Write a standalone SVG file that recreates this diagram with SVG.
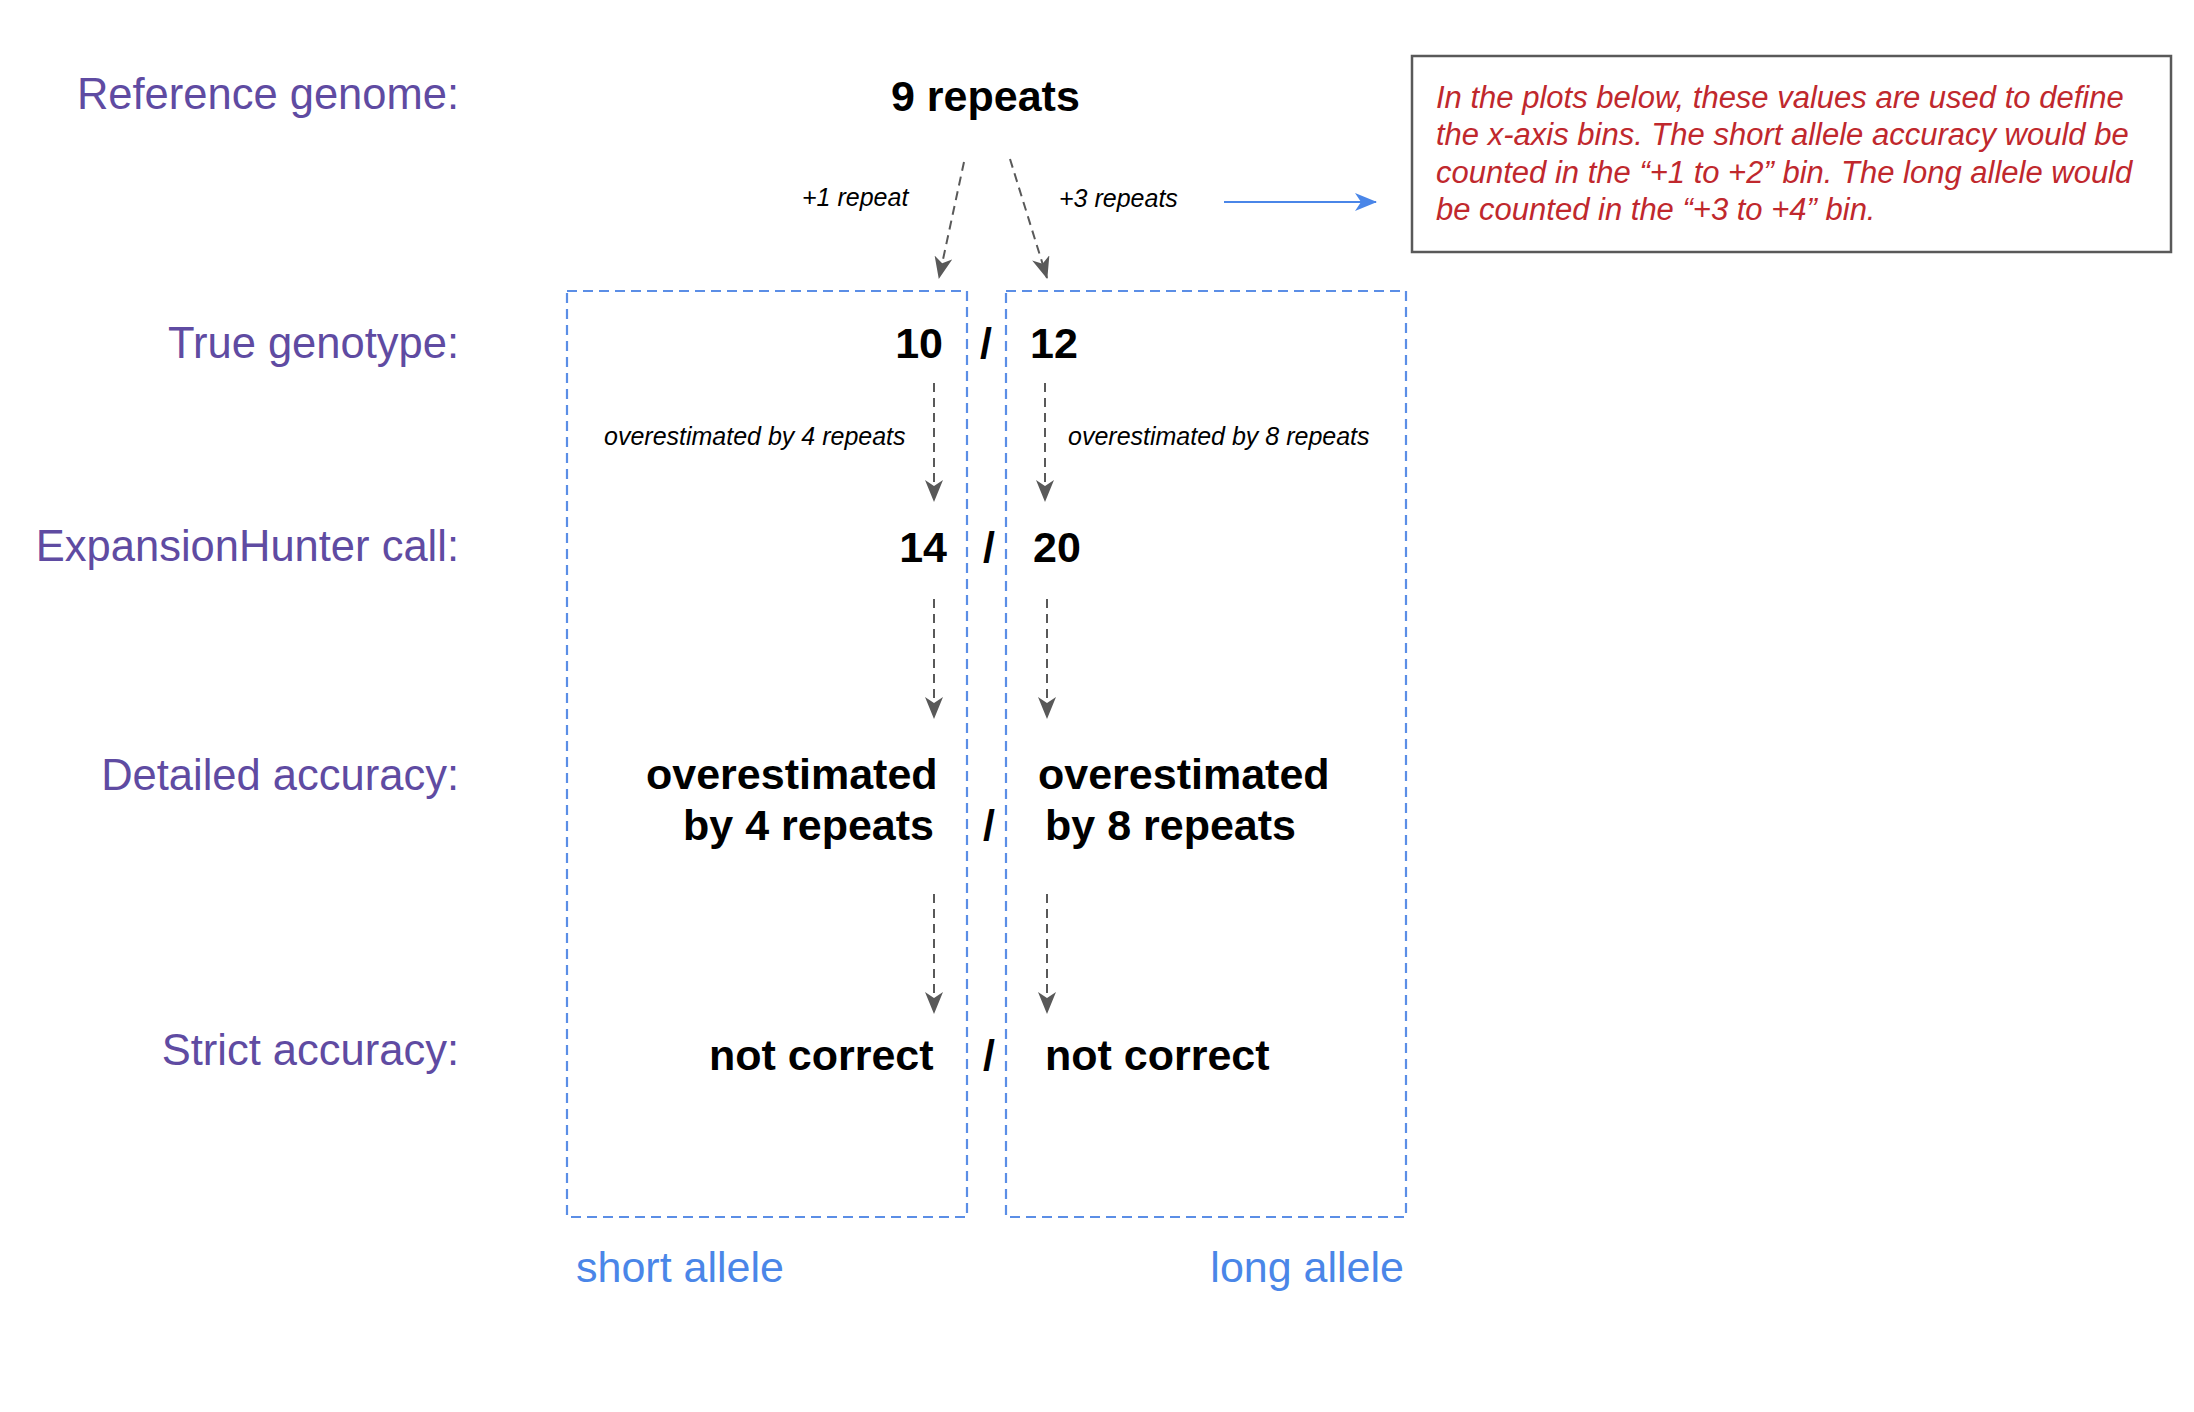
<svg xmlns="http://www.w3.org/2000/svg" width="2194" height="1412" viewBox="0 0 2194 1412">
<style>
.lbl{font-family:"Liberation Sans",Arial,sans-serif;font-size:43.5px;fill:#5f4ba2;text-anchor:end}
.big{font-family:"Liberation Sans",Arial,sans-serif;font-size:43px;font-weight:bold;fill:#000}
.sm{font-family:"Liberation Sans",Arial,sans-serif;font-size:25px;font-style:italic;fill:#000}
.note{font-family:"Liberation Sans",Arial,sans-serif;font-size:31px;font-style:italic;fill:#c0282d}
.allele{font-family:"Liberation Sans",Arial,sans-serif;font-size:43px;fill:#4a86e8}
.box{fill:none;stroke:#5b8ee6;stroke-width:2.2;stroke-dasharray:10 6}
.dash{fill:none;stroke:#595959;stroke-width:2;stroke-dasharray:9 6}
</style>
<defs>
<marker id="ah" markerUnits="userSpaceOnUse" markerWidth="22" markerHeight="18" viewBox="0 0 22 18" refX="21" refY="9" orient="auto">
<path d="M22,9 L0,0 L6,9 L0,18 Z" fill="#595959"/>
</marker>
<marker id="ahb" markerUnits="userSpaceOnUse" markerWidth="22" markerHeight="18" viewBox="0 0 22 18" refX="21" refY="9" orient="auto">
<path d="M22,9 L0,0 L6,9 L0,18 Z" fill="#4a86e8"/>
</marker>
</defs>
<rect width="2194" height="1412" fill="#fff"/>

<g id="row-labels">
<text class="lbl" x="459" y="109">Reference genome:</text>
<text class="lbl" x="459" y="358">True genotype:</text>
<text class="lbl" x="459" y="561">ExpansionHunter call:</text>
<text class="lbl" x="459" y="790">Detailed accuracy:</text>
<text class="lbl" x="459" y="1065">Strict accuracy:</text>
</g>

<g id="reference">
<text class="big" x="891" y="111">9 repeats</text>
</g>

<g id="note">
<rect x="1412" y="56" width="759" height="196" fill="#fff" stroke="#595959" stroke-width="2.5"/>
<text class="note" x="1436" y="108">In the plots below, these values are used to define</text>
<text class="note" x="1436" y="145">the x-axis bins. The short allele accuracy would be</text>
<text class="note" x="1436" y="183">counted in the “+1 to +2” bin. The long allele would</text>
<text class="note" x="1436" y="220">be counted in the “+3 to +4” bin.</text>
</g>

<g id="short-allele-box">
<rect class="box" x="567" y="291" width="400" height="926"/>
<text class="allele" x="576" y="1282">short allele</text>
</g>
<g id="long-allele-box">
<rect class="box" x="1006" y="291" width="400" height="926"/>
<text class="allele" x="1404" y="1282" text-anchor="end">long allele</text>
</g>

<g id="true-genotype">
<text class="big" x="943" y="358" text-anchor="end">10</text>
<text class="big" x="986" y="358" text-anchor="middle">/</text>
<text class="big" x="1030" y="358">12</text>
</g>

<g id="eh-call">
<text class="big" x="947" y="562" text-anchor="end">14</text>
<text class="big" x="989" y="562" text-anchor="middle">/</text>
<text class="big" x="1033" y="562">20</text>
</g>

<g id="detailed">
<text class="big" x="646" y="789">overestimated</text>
<text class="big" x="683" y="840">by 4 repeats</text>
<text class="big" x="989" y="840" text-anchor="middle">/</text>
<text class="big" x="1038" y="789">overestimated</text>
<text class="big" x="1045" y="840">by 8 repeats</text>
</g>

<g id="strict">
<text class="big" x="709" y="1070">not correct</text>
<text class="big" x="989" y="1070" text-anchor="middle">/</text>
<text class="big" x="1045" y="1070">not correct</text>
</g>

<g id="connectors">
<line class="dash" x1="964" y1="162" x2="939" y2="278" marker-end="url(#ah)"/>
<line class="dash" x1="1010" y1="159" x2="1047" y2="278" marker-end="url(#ah)"/>
<line x1="1224" y1="202" x2="1376" y2="202" stroke="#4a86e8" stroke-width="2" marker-end="url(#ahb)"/>
<line class="dash" x1="934" y1="383" x2="934" y2="501" marker-end="url(#ah)"/>
<line class="dash" x1="1045" y1="383" x2="1045" y2="501" marker-end="url(#ah)"/>
<line class="dash" x1="934" y1="599" x2="934" y2="718" marker-end="url(#ah)"/>
<line class="dash" x1="1047" y1="599" x2="1047" y2="718" marker-end="url(#ah)"/>
<line class="dash" x1="934" y1="894" x2="934" y2="1013" marker-end="url(#ah)"/>
<line class="dash" x1="1047" y1="894" x2="1047" y2="1013" marker-end="url(#ah)"/>
<text class="sm" x="802" y="206">+1 repeat</text>
<text class="sm" x="1059" y="207">+3 repeats</text>
<text class="sm" x="604" y="445">overestimated by 4 repeats</text>
<text class="sm" x="1068" y="445">overestimated by 8 repeats</text>
</g>
</svg>
